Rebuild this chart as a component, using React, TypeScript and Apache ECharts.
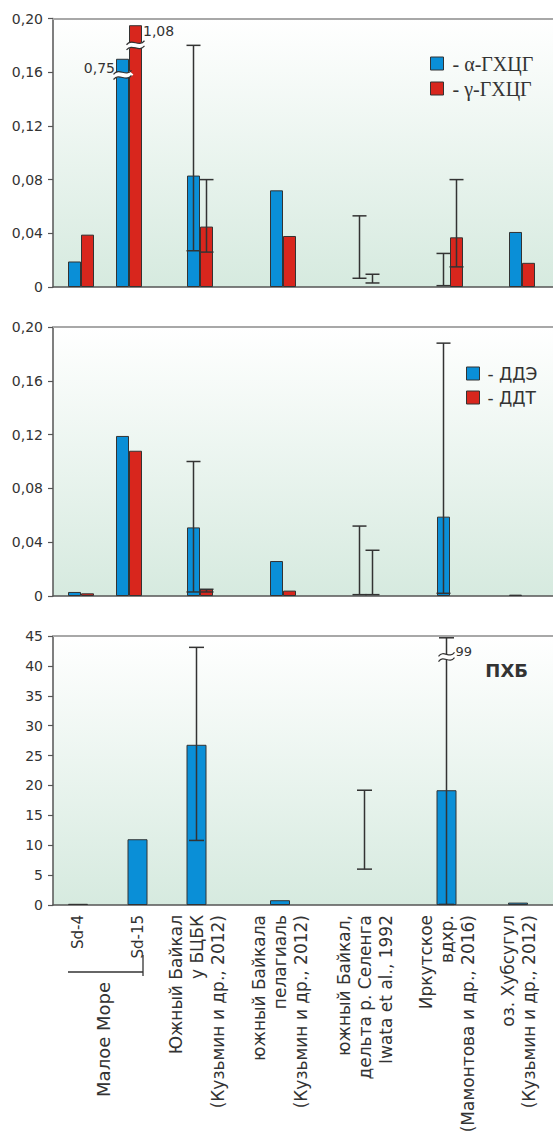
import React, { useEffect, useRef } from 'react';
import * as echarts from 'echarts';

// ---------------- data ----------------
const categories = [
  'Sd-4',
  'Sd-15',
  'Южный Байкал\nу БЦБК\n(Кузьмин и др., 2012)',
  'южный Байкала\nпелагиаль\n(Кузьмин и др., 2012)',
  'южный Байкал,\nдельта р. Селенга\nIwata et al., 1992',
  'Иркутское\nвдхр.\n(Мамонтова и др., 2016)',
  'оз. Хубсугул\n(Кузьмин и др., 2012)',
];
const groupTitle = 'Малое Море';
const hchNames = ['α-ГХЦГ', 'γ-ГХЦГ'];
const ddtNames = ['ДДЭ', 'ДДТ'];
const pcbTitle = 'ПХБ';

// panel 1: HCH isomers
const alphaHCH = [0.019, 0.75, 0.083, 0.072, null, null, 0.041];
const gammaHCH = [0.039, 1.08, 0.045, 0.038, null, 0.037, 0.018];
const alphaHCHRange = [null, null, [0.027, 0.18], null, [0.0065, 0.053], [0.001, 0.025], null];
const gammaHCHRange = [null, null, [0.026, 0.08], null, [0.003, 0.0095], [0.015, 0.08], null];

// panel 2: DDE / DDT
const dde = [0.003, 0.119, 0.051, 0.026, null, 0.059, 0.001];
const ddt = [0.002, 0.108, 0.005, 0.004, null, null, null];
const ddeRange = [null, null, [0.003, 0.1], null, [0.001, 0.052], [0.002, 0.188], null];
const ddtRange = [null, null, [0.003, 0.005], null, [0.001, 0.034], null, null];

// panel 3: PCB
const pcb = [0.2, 11, 26.8, 0.8, null, 19.2, 0.4];
const pcbRange = [null, null, [10.8, 43.1], null, [6.0, 19.2], [0.1, 99], null];

const pestTicks = [0, 0.04, 0.08, 0.12, 0.16, 0.2];
const pcbTicks = [0, 5, 10, 15, 20, 25, 30, 35, 40, 45];

// ---------------- layout / style ----------------
const W = 553;
const H = 1135;
const X_MAX = 100;
const PAIR_X = [5.6, 15.2, 29.4, 46.0, 62.6, 79.4, 93.8];
const SINGLE_X = [5.0, 16.9, 28.7, 45.4, 62.3, 78.7, 93.0];
const GRIDS = [
  { top: 18.5, height: 268.5 },
  { top: 327, height: 269 },
  { top: 636, height: 269 },
];
const DISPLAY_CLIP = { alpha: 0.17, gamma: 0.195, pcbWhisker: 44.7 };
const BREAK_AT = { alpha: 0.158, gamma: 0.18, pcbWhisker: 41.5 };
const BLUE = '#0a8fd7';
const RED = '#d8261d';
const EDGE = '#333333';
const INK = '#333333';
const AXIS = '#555555';
const FONT_NAME = '"DejaVu Sans", sans-serif';
const PAIR_BAR = 13;
const SINGLE_BAR = 20;

const bg = {
  type: 'linear', x: 0, y: 0, x2: 0, y2: 1,
  colorStops: [
    { offset: 0, color: '#ffffff' },
    { offset: 1, color: '#d6eadf' },
  ],
};

const fmt = (v: number) => (Number.isInteger(v) ? String(v) : v.toFixed(2)).replace('.', ',');

function xBottom(gi: number, withLabels: boolean) {
  return {
    type: 'value', gridIndex: gi, position: 'bottom', min: 0, max: X_MAX,
    splitLine: { show: false },
    axisTick: { show: false },
    axisLine: { show: true, onZero: false, lineStyle: { color: AXIS, width: 1.5 } },
    axisLabel: withLabels
      ? {
          show: true,
          customValues: SINGLE_X,
          rotate: 90,
          margin: 10,
          color: INK,
          fontFamily: FONT_NAME,
          fontSize: 17,
          lineHeight: 21,
          formatter: (v: number) => {
            const i = SINGLE_X.findIndex((p) => Math.abs(p - v) < 1e-6);
            if (i < 0) return '';
            return i < 2 ? `{s|${categories[i]}}` : categories[i];
          },
          rich: { s: { fontSize: 15, fontFamily: FONT_NAME, color: INK, lineHeight: 16 } },
        }
      : { show: false },
  };
}

function xTop(gi: number) {
  return {
    type: 'value', gridIndex: gi, position: 'top', min: 0, max: X_MAX,
    splitLine: { show: false }, axisTick: { show: false }, axisLabel: { show: false },
    axisLine: { show: true, onZero: false, lineStyle: { color: '#a8a8a8', width: 2 } },
  };
}

function yAxis(gi: number, ticks: number[], pest: boolean) {
  return {
    type: 'value', gridIndex: gi, min: ticks[0], max: ticks[ticks.length - 1],
    interval: ticks[1] - ticks[0],
    splitLine: { show: false },
    axisLine: { show: true, onZero: false, lineStyle: { color: AXIS, width: 1.5 } },
    axisTick: { show: true, length: 5, lineStyle: { color: AXIS, width: 1.2 } },
    axisLabel: {
      margin: 10, color: INK, fontFamily: FONT_NAME, fontSize: 14,
      formatter: (v: number) => (pest ? (v === 0 ? '0' : v.toFixed(2).replace('.', ',')) : String(v)),
    },
  };
}

function bars(name: string, values: (number | null)[], xs: number[], axis: number, color: string, width: number, clip = Infinity) {
  return {
    type: 'bar', name, xAxisIndex: axis, yAxisIndex: axis, barWidth: width, barGap: '0%',
    itemStyle: { color, borderColor: EDGE, borderWidth: 1 },
    data: values.map((v, i) => [xs[i], v == null ? null : Math.min(v, clip)]),
  };
}

function whiskers(name: string, ranges: (number[] | null)[], xs: number[], axis: number, offset: number, cap: number, clip = Infinity) {
  return {
    type: 'custom', name, xAxisIndex: axis, yAxisIndex: axis, z: 4, silent: true, clip: false,
    encode: { x: 0, y: [1, 2] },
    data: ranges.map((r, i) => (r ? [xs[i], r[0], r[1]] : null)).filter(Boolean),
    renderItem: (_p: any, api: any) => {
      const x = api.value(0);
      const lo = api.value(1);
      const hi = Math.min(api.value(2), clip);
      const a = api.coord([x, lo]);
      const b = api.coord([x, hi]);
      const cx = a[0] + offset;
      const h = cap / 2;
      const st = { stroke: EDGE, lineWidth: 1.5 };
      return {
        type: 'group',
        children: [
          { type: 'line', shape: { x1: cx, y1: b[1], x2: cx, y2: a[1] }, style: st },
          { type: 'line', shape: { x1: cx - h, y1: b[1], x2: cx + h, y2: b[1] }, style: st },
          { type: 'line', shape: { x1: cx - h, y1: a[1], x2: cx + h, y2: a[1] }, style: st },
        ],
      };
    },
  };
}

function buildOption() {
  const half = PAIR_BAR / 2;
  return {
    animation: false,
    textStyle: { fontFamily: FONT_NAME },
    grid: GRIDS.map((g) => ({
      left: 53, right: 0, top: g.top, height: g.height,
      show: true, borderWidth: 0, backgroundColor: bg,
      outerBoundsMode: 'none',
    })),
    xAxis: [xBottom(0, false), xBottom(1, false), xBottom(2, true), xTop(0), xTop(1), xTop(2)],
    yAxis: [yAxis(0, pestTicks, true), yAxis(1, pestTicks, true), yAxis(2, pcbTicks, false)],
    legend: [
      {
        data: hchNames, left: 425, top: 48.5, orient: 'vertical',
        itemWidth: 13, itemHeight: 13, itemGap: 5, icon: 'rect', selectedMode: false,
        itemStyle: { borderColor: EDGE, borderWidth: 1 },
        formatter: (n: string) => '- ' + n,
        textStyle: { fontFamily: '"Liberation Serif", serif', fontSize: 20, lineHeight: 20, color: INK, padding: [0, 0, 0, 4] },
      },
      {
        data: ddtNames, left: 461, top: 360, orient: 'vertical',
        itemWidth: 13, itemHeight: 13, itemGap: 7, icon: 'rect', selectedMode: false,
        itemStyle: { borderColor: EDGE, borderWidth: 1 },
        formatter: (n: string) => '- ' + n,
        textStyle: { fontFamily: FONT_NAME, fontSize: 17, lineHeight: 17, color: INK, padding: [0, 0, 0, 3] },
      },
    ],
    series: [
      bars(hchNames[0], alphaHCH, PAIR_X, 0, BLUE, PAIR_BAR, DISPLAY_CLIP.alpha),
      bars(hchNames[1], gammaHCH, PAIR_X, 0, RED, PAIR_BAR, DISPLAY_CLIP.gamma),
      whiskers('α range', alphaHCHRange, PAIR_X, 0, -half, 14),
      whiskers('γ range', gammaHCHRange, PAIR_X, 0, half, 14),
      bars(ddtNames[0], dde, PAIR_X, 1, BLUE, PAIR_BAR),
      bars(ddtNames[1], ddt, PAIR_X, 1, RED, PAIR_BAR),
      whiskers('ДДЭ range', ddeRange, PAIR_X, 1, -half, 14),
      whiskers('ДДТ range', ddtRange, PAIR_X, 1, half, 14),
      bars(pcbTitle, pcb, SINGLE_X, 2, BLUE, SINGLE_BAR),
      whiskers('ПХБ range', pcbRange, SINGLE_X, 2, 0, 15, DISPLAY_CLIP.pcbWhisker),
    ],
  };
}

function buildGraphic(chart: any) {
  const px = (axis: number, x: number, y: number) =>
    chart.convertToPixel({ xAxisIndex: axis, yAxisIndex: axis }, [x, y]) as number[];
  const half = PAIR_BAR / 2;
  const els: any[] = [];

  const wave = (cx: number, cy: number, hw: number) => {
    const mk = (dy: number, stroke: string, lw: number) => ({
      type: 'bezierCurve', z: 100, silent: true,
      shape: {
        x1: cx - hw, y1: cy + dy + 2,
        cpx1: cx - hw / 3, cpy1: cy + dy - 5,
        cpx2: cx + hw / 3, cpy2: cy + dy + 5,
        x2: cx + hw, y2: cy + dy - 2,
      },
      style: { stroke, lineWidth: lw, fill: 'none' },
    });
    return [mk(0, '#ffffff', 5), mk(-2.6, EDGE, 1.2), mk(2.6, EDGE, 1.2)];
  };
  const text = (s: string, x: number, y: number, align: string, size = 14, weight = 'normal', extra: any = {}) => ({
    type: 'text', z: 100, silent: true, x, y, ...extra,
    style: {
      text: s, fill: INK,
      font: `${weight} ${size}px ${FONT_NAME}`,
      fontSize: size, fontWeight: weight, fontFamily: FONT_NAME,
      align, verticalAlign: 'middle',
    },
  });
  const line = (x1: number, y1: number, x2: number, y2: number) => ({
    type: 'line', z: 100, silent: true, shape: { x1, y1, x2, y2 }, style: { stroke: EDGE, lineWidth: 1.3 },
  });

  // broken Sd-15 bars (panel 1)
  const k = 1;
  const [bx, byTop] = px(0, PAIR_X[k], DISPLAY_CLIP.alpha);
  const [, byBreak] = px(0, PAIR_X[k], BREAK_AT.alpha);
  els.push(...wave(bx - half, byBreak, 9));
  els.push(text(fmt(alphaHCH[k] as number), bx - PAIR_BAR - 1, byTop + 9, 'right'));
  const [rx, ryTop] = px(0, PAIR_X[k], DISPLAY_CLIP.gamma);
  const [, ryBreak] = px(0, PAIR_X[k], BREAK_AT.gamma);
  els.push(...wave(rx + half, ryBreak, 9));
  els.push(text(fmt(gammaHCH[k] as number), rx + PAIR_BAR + 1, ryTop + 6, 'left'));

  // broken PCB whisker (Иркутское вдхр.)
  const j = 5;
  const [ex, eyTop] = px(2, SINGLE_X[j], DISPLAY_CLIP.pcbWhisker);
  const [, eyBreak] = px(2, SINGLE_X[j], BREAK_AT.pcbWhisker);
  els.push(...wave(ex, eyBreak, 8));
  els.push(text(fmt((pcbRange[j] as number[])[1]), ex + 9, eyTop + 14, 'left', 13));

  // ПХБ title
  const [rEdge, pTop] = px(2, X_MAX, pcbTicks[pcbTicks.length - 1]);
  els.push(text(pcbTitle, rEdge - 25, pTop + 34, 'right', 18, 'bold'));

  // Малое Море bracket
  const [x0, y0] = px(2, SINGLE_X[0], 0);
  const [x1] = px(2, SINGLE_X[1], 0);
  const bl = x0 - 10;
  const br = x1 + 5.5;
  const yb = y0 + 67;
  els.push(line(bl, yb, br, yb));
  els.push(line(br, yb - 17, br, yb + 4));
  els.push(text(groupTitle, (bl + br) / 2 - 2.5, yb + 10, 'right', 18, 'normal', { rotation: Math.PI / 2 }));

  return els;
}

export default function App() {
  const ref = useRef<HTMLDivElement>(null);
  useEffect(() => {
    const el = ref.current as HTMLDivElement;
    const chart = echarts.init(el, null, { renderer: 'svg' });
    chart.setOption(buildOption() as any);
    chart.setOption({ graphic: buildGraphic(chart) } as any);
    return () => chart.dispose();
  }, []);
  return <div ref={ref} style={{ position: 'absolute', left: 0, top: 0, width: W, height: H }} />;
}
